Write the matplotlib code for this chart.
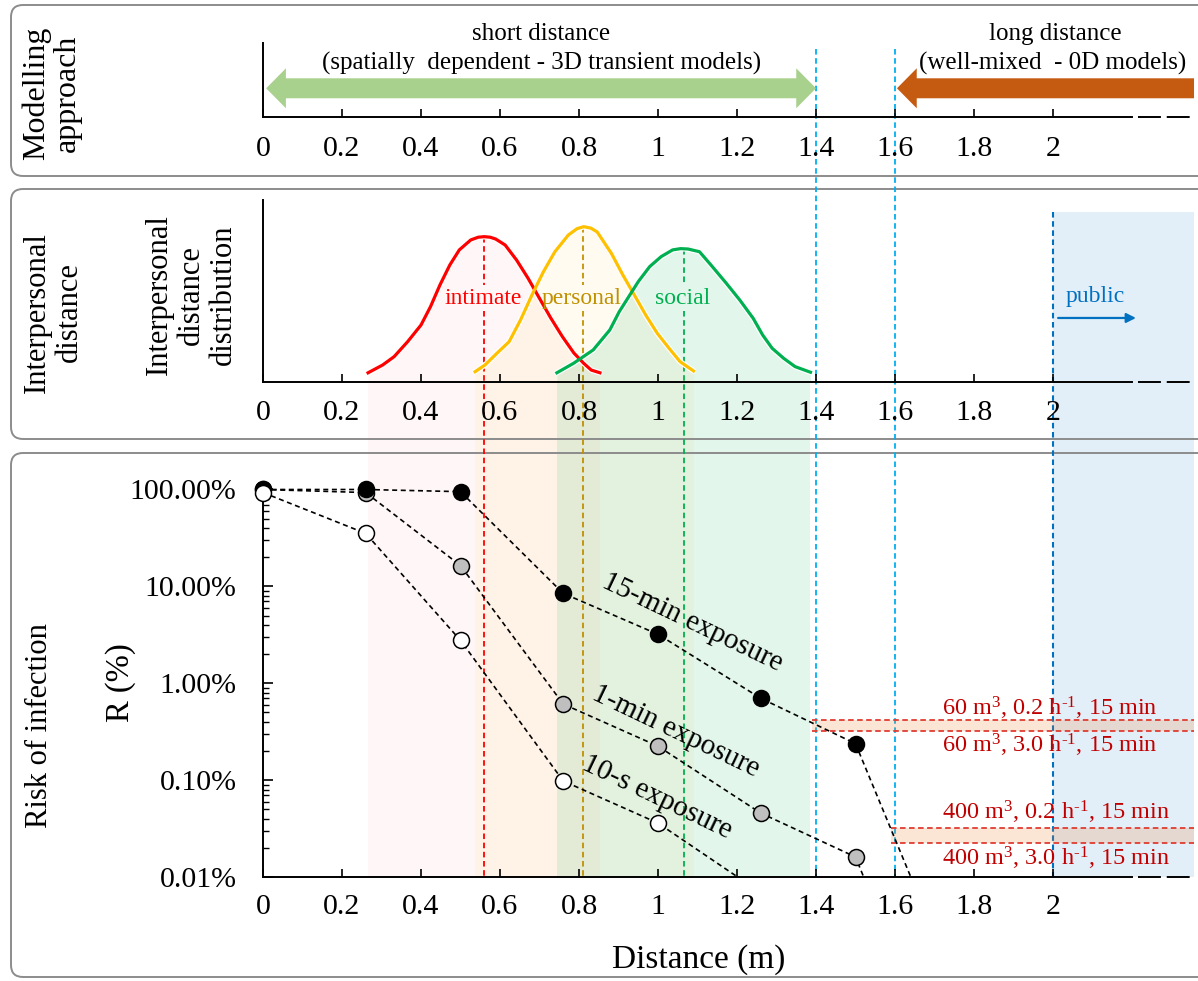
import numpy as np
import matplotlib
matplotlib.use('Agg')
import matplotlib.pyplot as plt
import matplotlib.transforms as mtransforms
from matplotlib.patches import FancyBboxPatch, Rectangle, Polygon
from matplotlib.lines import Line2D
from matplotlib.ticker import FixedLocator, LogLocator, NullFormatter

plt.rcParams['font.family'] = ['Liberation Serif', 'DejaVu Serif']
plt.rcParams['mathtext.fontset'] = 'custom'
plt.rcParams['mathtext.rm'] = 'Liberation Serif'
plt.rcParams['mathtext.it'] = 'Liberation Serif:italic'
plt.rcParams['lines.scale_dashes'] = False

# ---------------- data ----------------
distance_ticks = [0, 0.2, 0.4, 0.6, 0.8, 1.0, 1.2, 1.4, 1.6, 1.8, 2.0]
distance_tick_labels = ['0', '0.2', '0.4', '0.6', '0.8', '1', '1.2', '1.4', '1.6', '1.8', '2']

dist_x = [0, 0.26, 0.5, 0.76, 1.0, 1.26, 1.5, 1.76]
risk_15min = [1.0, 1.0, 0.95, 0.0847, 0.032, 0.0070, 0.00238, 0.0000066]
risk_1min = [1.0, 0.93, 0.164, 0.0061, 0.00224, 0.000457, 0.000161, 0.0000004]
dist_x_10s = [0, 0.26, 0.5, 0.76, 1.0, 1.26]
risk_10s = [0.93, 0.352, 0.0277, 0.00098, 0.00036, 0.000069]

risk_ticks = [1e-4, 1e-3, 1e-2, 1e-1, 1.0]
risk_tick_labels = ['0.01%', '0.10%', '1.00%', '10.00%', '100.00%']

intimate_x = [0.266, 0.303, 0.332, 0.366, 0.400, 0.424, 0.448, 0.473, 0.497, 0.526, 0.545, 0.560,
              0.575, 0.589, 0.613, 0.642, 0.671, 0.700, 0.729, 0.758, 0.787, 0.812, 0.831, 0.853]
intimate_y = [0.048, 0.091, 0.137, 0.219, 0.311, 0.412, 0.532, 0.642, 0.725, 0.780, 0.795, 0.798,
              0.795, 0.785, 0.752, 0.669, 0.569, 0.458, 0.348, 0.247, 0.157, 0.100, 0.063, 0.048]
personal_x = [0.537, 0.562, 0.592, 0.623, 0.652, 0.681, 0.710, 0.739, 0.773, 0.795, 0.812, 0.830,
              0.846, 0.882, 0.911, 0.940, 0.969, 0.998, 1.028, 1.056, 1.090]
personal_y = [0.054, 0.091, 0.155, 0.219, 0.339, 0.477, 0.605, 0.715, 0.807, 0.842, 0.853, 0.845,
              0.824, 0.706, 0.587, 0.477, 0.366, 0.266, 0.183, 0.109, 0.058]
social_x = [0.744, 0.786, 0.836, 0.878, 0.902, 0.950, 0.979, 1.008, 1.037, 1.057, 1.076, 1.105,
            1.134, 1.173, 1.207, 1.241, 1.265, 1.289, 1.318, 1.347, 1.386]
social_y = [0.048, 0.100, 0.174, 0.284, 0.385, 0.550, 0.633, 0.688, 0.725, 0.732, 0.730, 0.715,
            0.642, 0.541, 0.449, 0.348, 0.256, 0.183, 0.128, 0.082, 0.051]
zone_names = ['intimate', 'personal', 'social']
zone_means = [0.56, 0.81, 1.065]
public_start = 2.0

short_range_end = 1.4
long_range_start = 1.6

room_labels = [r'60 m$^{3}$, 0.2 h$^{\text{-}1}$, 15 min', r'60 m$^{3}$, 3.0 h$^{\text{-}1}$, 15 min',
               r'400 m$^{3}$, 0.2 h$^{\text{-}1}$, 15 min', r'400 m$^{3}$, 3.0 h$^{\text{-}1}$, 15 min']
room60_risk = [0.0032, 0.00416]     # 3.0 h-1 (lower), 0.2 h-1 (upper)
room400_risk = [0.000225, 0.000317]

# ---------------- figure ----------------
W, H = 1198, 981
fig = plt.figure(figsize=(W / 100, H / 100), dpi=100)
XMAX = 2.35
PX0, PXM = 263, 395


def frac_rect(top, bottom):
    left = PX0 / W
    right = (PX0 + XMAX * PXM) / W
    return [left, 1 - bottom / H, right - left, (bottom - top) / H]


ax1 = fig.add_axes(frac_rect(43, 117))
ax2 = fig.add_axes(frac_rect(200, 381.5))
ax3 = fig.add_axes(frac_rect(489.5, 877))

TICK_FS = 21.5
for ax, pad in ((ax1, 13.5), (ax2, 13.5), (ax3, 12)):
    ax.set_facecolor('none')
    ax.set_xlim(0, XMAX)
    for s in ('top', 'right'):
        ax.spines[s].set_visible(False)
    for s in ('left', 'bottom'):
        ax.spines[s].set_linewidth(1.4)
    ax.spines['bottom'].set_bounds(0, 2.2)
    ax.set_xticks(distance_ticks)
    ax.set_xticklabels(distance_tick_labels)
    ax.tick_params(axis='x', direction='in', length=6, width=1.2, pad=pad, labelsize=TICK_FS)
    ax.plot([2.215, 2.352], [0, 0], transform=ax.get_xaxis_transform(), color='black',
            lw=1.4, dashes=(16.5, 4.2), clip_on=False)

ax1.set_ylim(0, 1)
ax1.set_yticks([])
ax2.set_ylim(0, 1)
ax2.set_yticks([])

# ---------------- top panel: modelling approach ----------------
yc, sw, hw, hl = 0.388, 0.135, 0.27, 0.05
x0, x1 = 0.008, short_range_end
green_arrow = [(x0, yc), (x0 + hl, yc + hw), (x0 + hl, yc + sw), (x1 - hl, yc + sw), (x1 - hl, yc + hw),
               (x1, yc), (x1 - hl, yc - hw), (x1 - hl, yc - sw), (x0 + hl, yc - sw), (x0 + hl, yc - hw)]
ax1.add_patch(Polygon(green_arrow, closed=True, facecolor='#A9D18E', edgecolor='none', clip_on=False))
x0, x1 = long_range_start + 0.005, 2.357
orange_arrow = [(x0, yc), (x0 + hl, yc + hw), (x0 + hl, yc + sw), (x1, yc + sw),
                (x1, yc - sw), (x0 + hl, yc - sw), (x0 + hl, yc - hw)]
ax1.add_patch(Polygon(orange_arrow, closed=True, facecolor='#C55A11', edgecolor='none', clip_on=False))

ax1.text(0.704, 1.115, 'short distance', ha='center', va='center', fontsize=18, clip_on=False)
ax1.text(0.704, 0.725, '(spatially  dependent - 3D transient models)', ha='center', va='center',
         fontsize=18, clip_on=False)
ax1.text(2.005, 1.115, 'long distance', ha='center', va='center', fontsize=18, clip_on=False)
ax1.text(2.0, 0.725, '(well-mixed  - 0D models)', ha='center', va='center', fontsize=18, clip_on=False)

# ---------------- middle panel: distributions ----------------
zone_data = [(intimate_x, intimate_y), (personal_x, personal_y), (social_x, social_y)]
zone_colors = ['#FF0000', '#FFC000', '#00B050']
zone_alpha = [0.03, 0.06, 0.11]
zone_text_colors = ['#FF0000', '#BF9000', '#00B050']
zone_line_colors = ['#FF0000', '#BF9000', '#00B050']

for (zx, zy), c, a in zip(zone_data, zone_colors, zone_alpha):
    ax2.fill_between(zx, 0, zy, color=c, alpha=a, lw=0, zorder=1)
    ax2.plot(zx, zy, color='white', lw=4.0, zorder=2, solid_capstyle='round', solid_joinstyle='round')
    ax2.plot(zx, zy, color=c, lw=2.3, zorder=3, solid_joinstyle='round')

for name, xm, c in zip(zone_names, zone_means, zone_text_colors):
    ax2.text(xm - 0.003, 0.46, name, color=c, ha='center', va='center', fontsize=17, zorder=5)

ax2.text(2.033, 0.467, 'public', color='#0070C0', ha='left', va='center', fontsize=17, zorder=5)
ax2.annotate('', xy=(2.21, 0.35), xytext=(2.013, 0.35),
             arrowprops=dict(arrowstyle='-|>', color='#0070C0', lw=1.6, mutation_scale=14,
                             shrinkA=0, shrinkB=0), zorder=5)

# ---------------- bottom panel: risk ----------------
ax3.set_yscale('log')
ax3.set_ylim(1e-4, 1.0)
ax3.yaxis.set_major_locator(FixedLocator(risk_ticks))
ax3.set_yticklabels(risk_tick_labels)
ax3.yaxis.set_minor_locator(LogLocator(base=10, subs=np.arange(2, 10)))
ax3.yaxis.set_minor_formatter(NullFormatter())
ax3.tick_params(axis='y', which='major', direction='in', length=7, width=1.2, pad=19, labelsize=TICK_FS)
ax3.tick_params(axis='y', which='minor', direction='in', length=4, width=1.0)

clip_box = mtransforms.TransformedBbox(mtransforms.Bbox([[0, 0], [1, 1.05]]), ax3.transAxes)
series = [(dist_x, risk_1min, '#BFBFBF', 3), (dist_x, risk_15min, 'black', 4), (dist_x_10s, risk_10s, 'white', 5)]
for sx, sy, fc, z in series:
    ln, = ax3.plot(sx, sy, color='black', lw=1.2, dashes=(3.6, 2.6), zorder=z)
    ln.set_clip_box(clip_box)
    sx_a, sy_a = np.array(sx), np.array(sy)
    vis = sy_a >= 1e-4
    ax3.plot(sx_a[vis], sy_a[vis], ls='none', marker='o', ms=11.5, mfc=fc, mec='black', mew=1.1,
             zorder=z + 0.5, clip_on=False)

ax3.text(1.088, 0.0426, '15-min exposure', rotation=-25.5, ha='center', va='center', fontsize=21,
         rotation_mode='anchor', zorder=6)
ax3.text(1.045, 0.0032, '1-min exposure', rotation=-25.5, ha='center', va='center', fontsize=21,
         rotation_mode='anchor', zorder=6)
ax3.text(0.998, 0.00067, '10-s exposure', rotation=-25.5, ha='center', va='center', fontsize=21,
         rotation_mode='anchor', zorder=6)

for xs, (lo, hi) in ((1.39, room60_risk), (1.59, room400_risk)):
    ax3.fill_between([xs, 2.357], lo, hi, color='#ED7D31', alpha=0.2, lw=0, zorder=2, clip_on=False)
    for yv in (lo, hi):
        ax3.plot([xs, 2.357], [yv, yv], color='#E03C31', lw=1.3, dashes=(4, 2.5), zorder=2.2, clip_on=False)

room_text_y = [0.00468, 0.00191, 0.000394, 0.000133]
for lab, ty in zip(room_labels, room_text_y):
    ax3.text(1.718, ty, lab, color='#C00000', ha='left', va='baseline', fontsize=17.5, zorder=6)

# ---------------- figure-level decorations ----------------
trans = mtransforms.blended_transform_factory(ax3.transData, mtransforms.IdentityTransform())
y_bot = ax3.transAxes.transform((0, 0))[1]
y_mid = ax2.transAxes.transform((0, 0))[1]


def dy(ax, v):
    return ax.transData.transform((0, v))[1]


# zone bands below the middle axis
for (zx, zy), c, a in zip(zone_data, zone_colors, zone_alpha):
    fig.add_artist(Rectangle((min(zx), y_bot), max(zx) - min(zx), y_mid - y_bot, transform=trans,
                             facecolor=c, alpha=a, edgecolor='none', zorder=-1))
# public band
fig.add_artist(Rectangle((public_start, y_bot), 2.357 - public_start, (H - 212) - y_bot, transform=trans,
                         facecolor='#0070C0', alpha=0.11, edgecolor='none', zorder=-1))

# panel frames
for top, bottom in ((5, 176), (189, 439), (453, 977)):
    fig.add_artist(FancyBboxPatch((11, H - bottom), 1215 - 11, bottom - top,
                                  boxstyle='round,pad=0,rounding_size=12',
                                  transform=mtransforms.IdentityTransform(),
                                  facecolor='none', edgecolor='#8C8C8C', lw=1.4, zorder=-0.5))

# vertical dashed lines
for xv in (short_range_end, long_range_start):
    fig.add_artist(Line2D([xv, xv], [H - 49, y_bot], transform=trans, color='#00B0F0', lw=1.3,
                          dashes=(4, 2.6), zorder=-0.4))
fig.add_artist(Line2D([public_start, public_start], [H - 212, y_bot], transform=trans, color='#0070C0',
                      lw=1.5, dashes=(4, 2.6), zorder=-0.4))
for (zx, zy), xm, c in zip(zone_data, zone_means, zone_line_colors):
    fig.add_artist(Line2D([xm, xm], [dy(ax2, max(zy)), dy(ax2, 0.53)], transform=trans, color=c,
                          lw=1.3, dashes=(4, 2.6), zorder=-0.4))
    fig.add_artist(Line2D([xm, xm], [dy(ax2, 0.39), y_bot], transform=trans, color=c,
                          lw=1.3, dashes=(4, 2.6), zorder=-0.4))

# panel titles / axis labels
LAB_FS = 22
fig.text(52 / W, 1 - 93.5 / H, 'Modelling\napproach', rotation=90, ha='center', va='center',
         fontsize=23, linespacing=1.1, multialignment='center')
fig.text(53.5 / W, 1 - 312.5 / H, 'Interpersonal\ndistance', rotation=90, ha='center', va='center',
         fontsize=LAB_FS, linespacing=1.12, multialignment='center')
fig.text(191.5 / W, 1 - 295 / H, 'Interpersonal\ndistance\ndistribution', rotation=90, ha='center',
         va='center', fontsize=LAB_FS, linespacing=1.12, multialignment='center')
fig.text(40 / W, 1 - 725.5 / H, 'Risk of infection', rotation=90, ha='center', va='center', fontsize=LAB_FS)
fig.text(120.5 / W, 1 - 683 / H, 'R (%)', rotation=90, ha='center', va='center', fontsize=23.5)
fig.text(698.5 / W, 1 - 960 / H, 'Distance (m)', ha='center', va='center', fontsize=24)

fig.savefig('out.png', dpi=100)
